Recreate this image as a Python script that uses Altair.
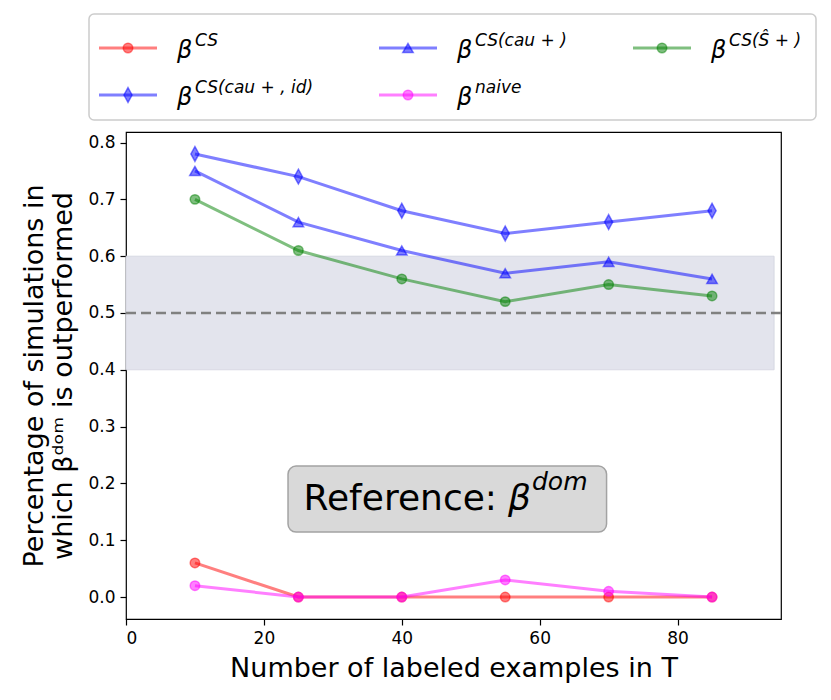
import altair as alt
import pandas as pd

# ---------------- data ----------------
n_labeled = [10, 25, 40, 55, 70, 85]
beta_cs = [0.06, 0.00, 0.00, 0.00, 0.00, 0.00]
beta_cs_cau_id = [0.78, 0.74, 0.68, 0.64, 0.66, 0.68]
beta_cs_cau = [0.75, 0.66, 0.61, 0.57, 0.59, 0.56]
beta_naive = [0.02, 0.00, 0.00, 0.03, 0.01, 0.00]
beta_cs_shat = [0.70, 0.61, 0.56, 0.52, 0.55, 0.53]

series_names = ["CS", "CS(cau+,id)", "CS(cau+)", "naive", "CS(Ŝ+)"]
legend_sups = ["CS", "CS(cau + , id)", "CS(cau + )", "naive", "CS(Ŝ + )"]
series_values = [beta_cs, beta_cs_cau_id, beta_cs_cau, beta_naive, beta_cs_shat]

x_ticks = [0, 20, 40, 60, 80]
y_ticks = [0.0, 0.1, 0.2, 0.3, 0.4, 0.5, 0.6, 0.7, 0.8]

band_low, band_high = 0.4, 0.6
chance_level = 0.5
ref_text = "Reference:"
ref_beta = "β"
ref_sup = "dom"

# ---------------- styles / layout ----------------
FONT = "DejaVu Sans"
THIN_DIAMOND = "M0,-1L0.55,0L0,1L-0.55,0Z"
colors = ["#ff0000", "#0000ff", "#0000ff", "#ff00ff", "#008000"]
shapes = ["circle", THIN_DIAMOND, "triangle-up", "circle", "circle"]
sizes = [90, 220, 110, 90, 90]

X_DOMAIN = [0, 95]
Y_DOMAIN = [-0.0387, 0.8186]
BAND_X = [0, 94]
REF_BOX = dict(x0=23.5, x1=69.7, y0=0.1144, y1=0.2305)
REF_ANCHOR = dict(x=55.4, y=0.153)

PW, PH = 655, 487

xscale = alt.Scale(domain=X_DOMAIN, nice=False, zero=False)
yscale = alt.Scale(domain=Y_DOMAIN, nice=False, zero=False)

xaxis = alt.Axis(values=x_ticks, title="Number of labeled examples in T",
                 labelFontSize=17, titleFontSize=27, tickSize=6, tickWidth=1.2,
                 labelPadding=5, titlePadding=9, domain=False, grid=False,
                 tickColor="black", labelColor="black", titleColor="black",
                 titleFontWeight="normal", labelFont=FONT, titleFont=FONT)
yaxis = alt.Axis(values=y_ticks, format=".1f",
                 title=["Percentage of simulations in", "which βᵈᵒᵐ is outperformed"],
                 labelFontSize=17, titleFontSize=27, titleLineHeight=29,
                 tickSize=6, tickWidth=1.2, labelPadding=5, titlePadding=10,
                 domain=False, grid=False, tickColor="black", labelColor="black",
                 titleColor="black", titleFontWeight="normal",
                 labelFont=FONT, titleFont=FONT)


def X(field):
    return alt.X(field, type="quantitative", scale=xscale, axis=xaxis)


def Y(field):
    return alt.Y(field, type="quantitative", scale=yscale, axis=yaxis)


layers = []

band_df = pd.DataFrame({"x0": [BAND_X[0]], "x1": [BAND_X[1]],
                        "y0": [band_low], "y1": [band_high]})
layers.append(alt.Chart(band_df).mark_rect(fill="#e3e4ed", stroke="#d2d3de",
                                           strokeWidth=0.8).encode(
    x=X("x0"), x2="x1", y=Y("y0"), y2="y1"))

chance_df = pd.DataFrame({"x0": [X_DOMAIN[0]], "x1": [X_DOMAIN[1]], "y": [chance_level]})
layers.append(alt.Chart(chance_df).mark_rule(color="#808080", strokeWidth=2.5,
                                             strokeDash=[10, 5]).encode(
    x=X("x0"), x2="x1", y=Y("y")))

for i in range(len(series_names)):
    df = pd.DataFrame({"n": n_labeled, "v": series_values[i]})
    c = colors[i]
    layers.append(alt.Chart(df).mark_line(color=c, strokeWidth=3, opacity=0.5).encode(
        x=X("n"), y=Y("v")))
    layers.append(alt.Chart(df).mark_point(shape=shapes[i], size=sizes[i], fill=c,
                                           fillOpacity=0.5, stroke=c, strokeOpacity=0.5,
                                           strokeWidth=1.5, opacity=1).encode(
        x=X("n"), y=Y("v")))

box_df = pd.DataFrame([REF_BOX])
layers.append(alt.Chart(box_df).mark_rect(fill="#d9d9d9", stroke="#a3a3a3",
                                          strokeWidth=1.5, cornerRadius=8).encode(
    x=X("x0"), x2="x1", y=Y("y0"), y2="y1"))

anc_df = pd.DataFrame([{"x": REF_ANCHOR["x"], "y": REF_ANCHOR["y"],
                        "t1": ref_text, "t2": ref_beta, "t3": ref_sup}])
layers.append(alt.Chart(anc_df).mark_text(align="right", baseline="alphabetic",
                                          fontSize=36, font=FONT, dx=-11,
                                          color="black").encode(
    x=X("x"), y=Y("y"), text="t1:N"))
layers.append(alt.Chart(anc_df).mark_text(align="left", baseline="alphabetic",
                                          fontSize=36, font=FONT, fontStyle="italic",
                                          color="black").encode(
    x=X("x"), y=Y("y"), text="t2:N"))
layers.append(alt.Chart(anc_df).mark_text(align="left", baseline="alphabetic",
                                          fontSize=25, font=FONT, fontStyle="italic",
                                          dx=24, dy=-20, color="black").encode(
    x=X("x"), y=Y("y"), text="t3:N"))

plot = alt.layer(*layers).properties(width=PW, height=PH)

# ---------------- legend panel ----------------
LEG_W, LEG_H = 727, 106
LEG_LEFT_OVERHANG = 37
COL_X = [10, 290, 544]
ROW_Y = [34, 81]
HANDLE = 58
LABEL_OFF = 78

lx_scale = alt.Scale(domain=[0, LEG_W], range=[-LEG_LEFT_OVERHANG, LEG_W - LEG_LEFT_OVERHANG],
                     nice=False, zero=False)
ly_scale = alt.Scale(domain=[0, LEG_H], range=[0, LEG_H], nice=False, zero=False)


def LX(field):
    return alt.X(field, type="quantitative", scale=lx_scale, axis=None)


def LY(field):
    return alt.Y(field, type="quantitative", scale=ly_scale, axis=None)


leg_layers = []
frame_df = pd.DataFrame({"x0": [0], "x1": [LEG_W], "y0": [0], "y1": [LEG_H]})
leg_layers.append(alt.Chart(frame_df).mark_rect(fill="white", stroke="#cccccc",
                                                strokeWidth=1.5, cornerRadius=5).encode(
    x=LX("x0"), x2="x1", y=LY("y0"), y2="y1"))

rows = []
for i, name in enumerate(series_names):
    col, row = i // 2, i % 2
    hx0 = COL_X[col]
    rows.append({"name": name, "sup": legend_sups[i], "beta": "β",
                 "hx0": hx0, "hx1": hx0 + HANDLE, "hxm": hx0 + HANDLE / 2,
                 "lx": hx0 + LABEL_OFF, "y": ROW_Y[row]})
leg_df = pd.DataFrame(rows)

for i, name in enumerate(series_names):
    sub = leg_df[leg_df["name"] == name]
    c = colors[i]
    leg_layers.append(alt.Chart(sub).mark_rule(color=c, strokeWidth=3, opacity=0.5).encode(
        x=LX("hx0"), x2="hx1", y=LY("y")))
    leg_layers.append(alt.Chart(sub).mark_point(shape=shapes[i], size=sizes[i], fill=c,
                                                fillOpacity=0.5, stroke=c, strokeOpacity=0.5,
                                                strokeWidth=1.5).encode(
        x=LX("hxm"), y=LY("y")))

leg_layers.append(alt.Chart(leg_df).mark_text(align="left", baseline="alphabetic",
                                              fontSize=24, font=FONT, fontStyle="italic",
                                              dy=10, color="black").encode(
    x=LX("lx"), y=LY("y"), text="beta:N"))
leg_layers.append(alt.Chart(leg_df).mark_text(align="left", baseline="alphabetic",
                                              fontSize=17, font=FONT, fontStyle="italic",
                                              dx=18, dy=-2, color="black").encode(
    x=LX("lx"), y=LY("y"), text="sup:N"))

legend = alt.layer(*leg_layers).properties(
    width=LEG_W - LEG_LEFT_OVERHANG, height=LEG_H,
    view=alt.ViewBackground(strokeOpacity=0))

chart = alt.vconcat(legend, plot, spacing=10).properties(
    padding={"left": 12, "top": 5, "right": 5, "bottom": 5}
).configure(font=FONT).configure_view(stroke="black", strokeWidth=1.2)

chart.save("out.html", embed_options={"renderer": "svg", "actions": False})
